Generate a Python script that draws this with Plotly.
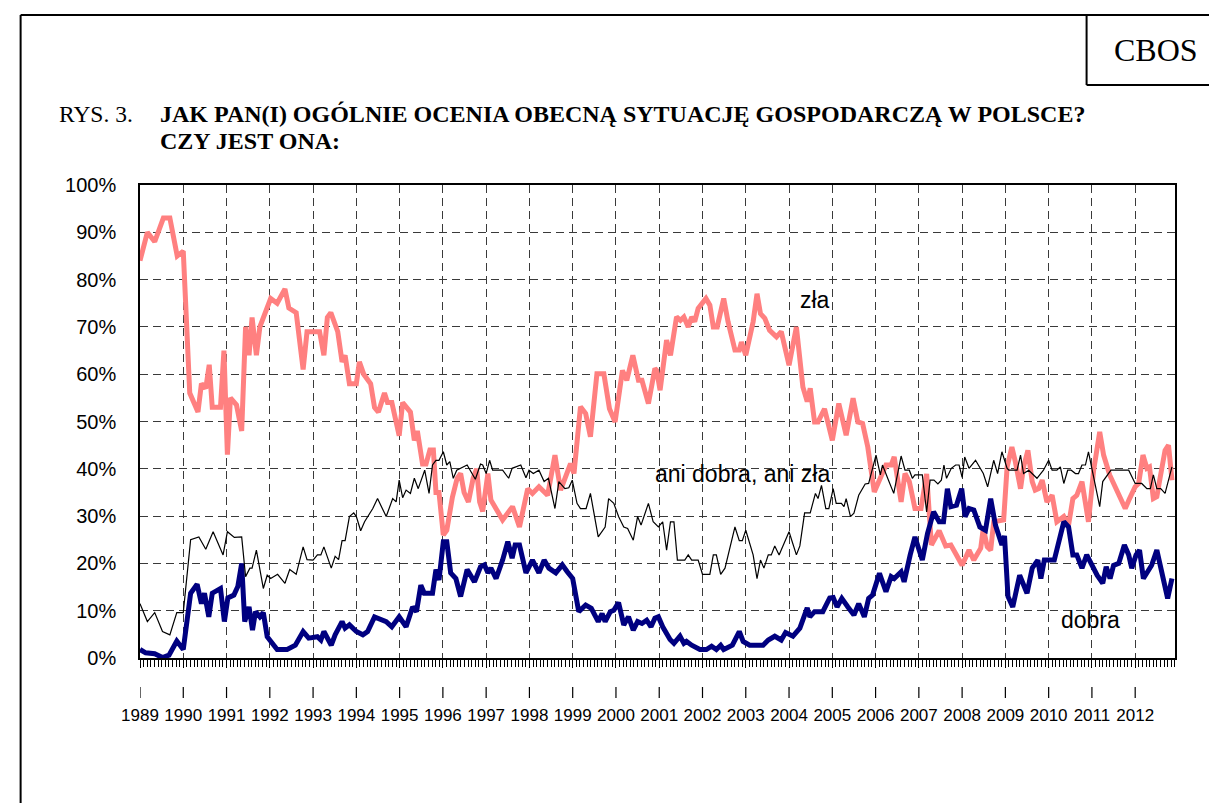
import plotly.graph_objects as go

# ---- data ----
zla_x = [1989.00,1989.17,1989.34,1989.54,1989.69,1989.86,1990.00,1990.15,1990.34,1990.42,1990.52,1990.60,1990.67,1990.86,1990.94,
         1991.02,1991.09,1991.23,1991.35,1991.44,1991.52,1991.59,1991.69,1991.77,1992.02,1992.17,1992.35,1992.44,1992.61,1992.77,1992.86,
         1993.15,1993.25,1993.33,1993.41,1993.57,1993.67,1993.74,1993.84,1994.00,1994.07,1994.17,1994.33,1994.42,1994.51,1994.65,1994.72,
         1994.82,1994.99,1995.07,1995.25,1995.34,1995.41,1995.53,1995.61,1995.70,1995.78,1995.84,1995.91,1996.01,1996.09,1996.22,1996.33,
         1996.41,1996.49,1996.59,1996.70,1996.78,1996.85,1996.92,1997.04,1997.11,1997.38,1997.61,1997.77,1997.96,1998.07,1998.22,1998.42,
         1998.59,1998.72,1998.85,1998.95,1999.03,1999.18,1999.30,1999.41,1999.56,1999.72,1999.85,1999.98,2000.15,2000.25,2000.39,2000.52,
         2000.60,2000.75,2000.90,2000.94,2001.02,2001.17,2001.26,2001.40,2001.49,2001.57,2001.67,2001.75,2001.82,2001.90,2002.08,2002.17,
         2002.25,2002.34,2002.49,2002.59,2002.75,2002.85,2002.90,2003.00,2003.17,2003.26,2003.34,2003.44,2003.55,2003.71,2003.82,2004.00,
         2004.17,2004.32,2004.42,2004.49,2004.59,2004.67,2004.82,2005.00,2005.15,2005.32,2005.48,2005.59,2005.70,2005.82,2005.97,2006.09,
         2006.24,2006.36,2006.43,2006.59,2006.68,2006.78,2006.91,2007.05,2007.18,2007.29,2007.47,2007.62,2007.74,2007.85,2008.00,2008.16,
         2008.27,2008.43,2008.49,2008.58,2008.66,2008.73,2008.96,2009.04,2009.15,2009.23,2009.35,2009.42,2009.52,2009.62,2009.69,2009.77,
         2009.85,2009.96,2010.08,2010.19,2010.35,2010.46,2010.56,2010.65,2010.77,2010.92,2011.04,2011.18,2011.27,2011.41,2011.54,2011.64,
         2011.77,2011.87,2012.00,2012.08,2012.18,2012.27,2012.33,2012.42,2012.50,2012.58,2012.69,2012.77,2012.85]
zla_y = [84,90,88,93,93,85,86,56,52,58,57,62,53,53,65,
         43,55,53.5,48,70,64,72,64,70,76,75,78,74,73,61,69,
         69,64,72,73,69,62.6,64,58,58,62.6,60,58,53,52,56,54,
         54,47,54,52,46,48,41,41,44,44,35,35,26,27,34,38,
         39,35,33,38,40,33,31,39,33.4,29.2,32,27.7,35.8,34.8,36.2,34.4,
         42.9,35.5,39,41.1,39,53.1,51.7,46.8,60.1,60.1,52.7,49.9,60.8,58.7,64,58.7,
         58.7,53.8,61.2,60.8,56.6,67.2,64,72.1,71.4,72.1,70,72.1,71.1,73.9,76,74.6,
         70,70,76,71.1,65.1,65.1,66.8,64,71.1,77,72.8,71.8,69.3,67.9,69,61.9,
         70,57.3,54.2,57,49.9,49.9,52.7,46,53.8,47.1,54.9,49.9,49.6,44.6,35.1,37.6,
         40.8,40.8,42.5,33,39,37.3,31.6,31.6,38.9,23.9,26.9,23.7,23.9,22.1,19.6,22.8,
         20.7,23.2,27.4,23.5,22.8,28.8,29.2,40.4,44.6,41.5,35.8,40.4,43.9,37.3,35.5,35.8,
         37.6,33,34.4,28.8,29.9,28.1,33.7,34.4,37.3,28.8,39.7,47.8,42.9,38.7,36.2,34.4,
         31.6,33.7,36.2,36.9,42.9,40.1,40.4,33.7,34.1,38.3,43.9,45,37.6]

ani_x = [1989.00,1989.17,1989.34,1989.52,1989.69,1989.85,1990.00,1990.17,1990.36,1990.52,1990.69,1990.92,1991.02,1991.18,1991.35,
         1991.44,1991.54,1991.59,1991.69,1991.85,1991.94,1992.02,1992.18,1992.35,1992.46,1992.61,1992.77,1992.86,1993.00,1993.10,1993.18,
         1993.25,1993.42,1993.51,1993.59,1993.67,1993.74,1993.84,1993.94,1994.00,1994.10,1994.19,1994.38,1994.49,1994.69,1994.84,1994.92,
         1994.99,1995.07,1995.15,1995.25,1995.34,1995.43,1995.58,1995.68,1995.76,1995.84,1995.91,1996.01,1996.09,1996.16,1996.24,1996.32,
         1996.41,1996.56,1996.75,1996.87,1996.92,1997.00,1997.08,1997.15,1997.38,1997.52,1997.60,1997.80,1997.92,1997.99,1998.09,1998.22,
         1998.34,1998.44,1998.59,1998.68,1998.82,1998.91,1998.99,1999.10,1999.18,1999.31,1999.41,1999.59,1999.75,1999.83,1999.95,2000.06,
         2000.18,2000.27,2000.40,2000.50,2000.58,2000.75,2000.86,2000.98,2001.08,2001.17,2001.26,2001.34,2001.42,2001.59,2001.67,2001.75,
         2001.90,2002.00,2002.17,2002.25,2002.32,2002.42,2002.52,2002.75,2002.85,2002.92,2003.00,2003.17,2003.26,2003.34,2003.42,2003.52,
         2003.59,2003.67,2003.77,2004.00,2004.17,2004.25,2004.36,2004.49,2004.61,2004.67,2004.75,2004.85,2004.92,2005.02,2005.09,2005.21,
         2005.27,2005.32,2005.42,2005.50,2005.61,2005.70,2005.76,2005.84,2006.01,2006.11,2006.16,2006.28,2006.42,2006.59,2006.68,2006.78,
         2006.85,2006.91,2007.08,2007.18,2007.26,2007.35,2007.44,2007.52,2007.58,2007.64,2007.75,2007.85,2007.93,2008.00,2008.06,2008.16,
         2008.31,2008.49,2008.59,2008.73,2008.82,2008.92,2009.04,2009.08,2009.27,2009.35,2009.42,2009.54,2009.73,2009.88,2010.00,2010.08,
         2010.19,2010.27,2010.35,2010.44,2010.52,2010.62,2010.69,2010.77,2010.85,2010.92,2011.02,2011.10,2011.18,2011.25,2011.33,2011.44,
         2011.85,2012.00,2012.15,2012.27,2012.35,2012.42,2012.50,2012.59,2012.69,2012.85]
ani_y = [11.5,7.7,9.6,5.6,4.9,9.6,9.6,25,25.6,23,26.7,21.8,26.7,25.5,25.6,
         17.2,19,19,22.8,14.7,17.5,16.8,17.7,15.8,18.7,17.7,23.5,20.8,20.7,21.8,21.8,
         23.5,19,21.5,20.8,24.8,24.8,29.9,30.7,29.9,26.9,28.8,31.6,33.7,29.9,33.7,33,
         37.6,33.9,35.5,34.8,38,35.8,39.7,34.8,40.8,41.8,41.8,43.6,40.8,41.5,38,39.7,
         40.1,40.8,37.8,41,40.8,39,41.8,39.7,39.7,38,40.1,40.8,38.1,39.7,39,39.7,
         37.3,38,31.6,37.3,35.8,36,37.6,32.7,31.6,31.6,34.8,25.6,27.7,33.7,32.7,29.9,
         27.7,27.4,24.9,29.9,28.1,32.7,28.8,27.7,28.8,22.8,28.8,28.8,20.7,20.7,21.8,20.7,
         20.7,17.7,17.7,21.8,21.8,17.7,19,27.7,24.8,24.8,27,21.8,16.8,20.7,19,21.8,
         21.8,23.7,21.8,26.7,21.8,23.7,30.7,30.7,34.8,33.7,36.5,31.6,31.6,35.8,32.7,32.7,
         32,33.7,29.9,30.6,34.4,35.8,36.8,36.9,42.9,38.7,40.8,38,34.8,42.7,39.7,39.7,
         38,38.7,38.7,30.9,37.6,37.6,36.8,37.6,40.8,38,40.1,40.8,40.8,38.2,42.5,40.1,
         41.8,39,36.2,41.8,39,43.6,40.1,39.7,39.7,42.9,39,39.7,38,39.7,41.8,39.7,
         39.7,40.4,36.9,39.7,39.7,39,39,40.8,40.8,43.6,39,35.8,32,37.3,38.3,39.7,
         39.7,36.9,36.9,35.8,35.8,38.7,35.8,35.8,34.8,40.4]

dobra_x = [1989.00,1989.13,1989.34,1989.52,1989.67,1989.85,1990.00,1990.17,1990.32,1990.42,1990.49,1990.59,1990.67,1990.86,1990.95,
           1991.03,1991.17,1991.26,1991.35,1991.42,1991.52,1991.60,1991.67,1991.77,1991.85,1991.94,1992.17,1992.40,1992.59,1992.77,1992.90,
           1993.10,1993.18,1993.25,1993.42,1993.51,1993.67,1993.74,1993.84,1994.00,1994.15,1994.26,1994.42,1994.69,1994.82,1994.99,1995.15,
           1995.30,1995.39,1995.49,1995.57,1995.76,1995.84,1995.91,1996.01,1996.09,1996.18,1996.30,1996.41,1996.56,1996.73,1996.87,1996.96,
           1997.04,1997.11,1997.23,1997.38,1997.50,1997.60,1997.67,1997.77,1997.92,1998.07,1998.22,1998.34,1998.45,1998.61,1998.76,1998.87,
           1999.00,1999.14,1999.30,1999.43,1999.59,1999.68,1999.75,1999.87,1999.95,2000.06,2000.18,2000.29,2000.40,2000.50,2000.60,2000.71,
           2000.81,2000.90,2000.98,2001.08,2001.25,2001.34,2001.48,2001.57,2001.63,2001.75,2001.94,2002.09,2002.21,2002.32,2002.42,2002.49,
           2002.69,2002.85,2002.94,2003.09,2003.40,2003.52,2003.67,2003.82,2003.92,2004.09,2004.25,2004.42,2004.48,2004.59,2004.78,2004.94,
           2005.02,2005.11,2005.22,2005.36,2005.50,2005.61,2005.74,2005.84,2005.93,2006.09,2006.24,2006.36,2006.43,2006.59,2006.66,2006.80,
           2006.91,2007.08,2007.20,2007.34,2007.47,2007.57,2007.66,2007.74,2007.87,2007.99,2008.07,2008.16,2008.27,2008.41,2008.54,2008.66,
           2008.77,2008.92,2008.98,2009.06,2009.17,2009.33,2009.50,2009.62,2009.75,2009.82,2009.90,2010.13,2010.25,2010.35,2010.46,2010.56,
           2010.65,2010.77,2010.88,2011.12,2011.25,2011.33,2011.42,2011.50,2011.62,2011.75,2011.85,2011.92,2012.02,2012.10,2012.19,2012.38,
           2012.50,2012.62,2012.75,2012.85]
dobra_y = [1.8,1.1,0.9,0.1,0.6,3.6,1.8,13.7,15.6,11.5,13.7,8.7,13.7,14.7,7.7,
           12.7,13.3,15.1,20,7.7,10.8,5.9,9.8,8.7,9.6,4.5,1.8,1.8,2.7,5.6,4.2,
           4.5,3.8,5.6,2.7,4.9,7.7,6.3,7,5.6,4.9,5.6,8.7,7.7,6.6,8.7,6.6,
           10.8,9.8,15.4,13.7,13.7,18.7,16.5,24.6,24.6,18,16.8,13,18.7,16.1,19.3,19.7,
           18,19,16.8,20.7,24.6,21.1,23.9,23.9,18,20.7,18,20.7,19,18,19.7,18.3,
           16.8,9.8,11.2,10.5,7.7,9.4,7.7,9.8,10.1,11.7,7,8.7,5.9,7.7,7.3,8,
           6.6,8.4,8.7,6.6,3.9,3.1,4.6,3.1,3.5,2.7,1.8,1.8,2.5,1.8,2.7,1.8,
           2.7,5.6,3.5,2.7,2.7,3.8,4.6,3.8,5.4,4.6,6.3,10.6,8.7,9.8,9.8,12.7,
           12.8,10.8,12.6,10.8,9.1,11.5,8.7,12.6,13.3,17.9,14,17.2,16.8,18.2,16.1,21.8,
           25.6,20.7,26.3,30.9,28.8,28.8,35.8,32,32.3,35.8,29.9,31.6,31.3,27.7,27,33.7,
           28.1,23.9,25.8,13,10.8,17.5,13.7,19,20.7,16.8,20.7,20.7,25.3,28.8,27.7,21.8,
           21.8,19,21.8,17.5,15.8,19.3,16.8,19.6,20,23.9,21.8,19,21.8,22.8,16.8,19.6,
           22.8,17.5,12.6,16.8]

years = list(range(1989, 2013))
y_ticks = list(range(0, 101, 10))

series_labels = [("zła", 2004.61, 75.7), ("ani dobra, ani zła", 2002.93, 38.9), ("dobra", 2010.96, 8.0)]

# ---- geometry (page pixels; the page body has an 8px margin) ----
OFF = 8
W, H = 1217 - OFF, 803 - OFF
L, R, T, B = 139.5, 1175.5, 185, 658      # plot area in page pixels
PW, PH = R - L, B - T
def px(x):
    return (x - L) / PW
def py(y):
    return (B - y) / PH

fig = go.Figure()
fig.add_trace(go.Scatter(x=zla_x, y=zla_y, mode="lines", line=dict(color="#FF8080", width=5), hoverinfo="skip"))
fig.add_trace(go.Scatter(x=dobra_x, y=dobra_y, mode="lines", line=dict(color="#000080", width=5), hoverinfo="skip"))
fig.add_trace(go.Scatter(x=ani_x, y=ani_y, mode="lines", line=dict(color="#000000", width=1.2), hoverinfo="skip"))

grid_dash = "8px,5px"
fig.update_xaxes(range=[1989, 2012.92], tickmode="array", tickvals=years, ticktext=[str(y) for y in years],
                 showgrid=True, gridcolor="#3a3a3a", griddash=grid_dash, gridwidth=1,
                 showline=True, linecolor="black", linewidth=1.5, mirror=True,
                 ticks="outside", ticklen=8, tickcolor="black", tickwidth=1,
                 minor=dict(tickmode="linear", tick0=1989, dtick=1/12, ticks="outside", ticklen=7, tickcolor="black", tickwidth=1, showgrid=False),
                 tickfont=dict(family="Liberation Sans, Arial", size=17, color="black"),
                 ticklabelstandoff=33, zeroline=False, fixedrange=True)
fig.update_yaxes(range=[0, 100], tickmode="array", tickvals=y_ticks, ticktext=[f"{v}%" for v in y_ticks],
                 showgrid=True, gridcolor="#3a3a3a", griddash=grid_dash, gridwidth=1,
                 showline=True, linecolor="black", linewidth=1.5, mirror=True,
                 ticks="", tickfont=dict(family="Liberation Sans, Arial", size=20, color="black"),
                 ticklabelstandoff=18, zeroline=False, fixedrange=True)

shapes = []
# dash marks below axis at each year
for yr in years:
    shapes.append(dict(type="line", xref="x", yref="paper", x0=yr, x1=yr, y0=py(687), y1=py(698),
                       line=dict(color="black", width=1.2)))
# page frame and CBOS box
shapes.append(dict(type="line", xref="paper", yref="paper", x0=px(20), x1=px(20), y0=py(15), y1=py(810), line=dict(color="black", width=2)))
shapes.append(dict(type="line", xref="paper", yref="paper", x0=px(20), x1=px(1225), y0=py(15), y1=py(15), line=dict(color="black", width=2)))
shapes.append(dict(type="line", xref="paper", yref="paper", x0=px(1087), x1=px(1087), y0=py(15), y1=py(85), line=dict(color="black", width=2)))
shapes.append(dict(type="line", xref="paper", yref="paper", x0=px(1087), x1=px(1225), y0=py(85), y1=py(85), line=dict(color="black", width=2)))

annotations = []
for txt, xx, yy in series_labels:
    annotations.append(dict(text=txt, x=xx, y=yy, xref="x", yref="y", showarrow=False, xanchor="center", yanchor="middle",
                            font=dict(family="Liberation Sans, Arial", size=23, color="black")))
annotations.append(dict(text="CBOS", x=px(1156), y=py(50), xref="paper", yref="paper", showarrow=False,
                        xanchor="center", yanchor="middle",
                        font=dict(family="Liberation Serif, Times New Roman", size=32, color="black")))
annotations.append(dict(text="RYS. 3.", x=px(56), y=py(114), xref="paper", yref="paper", xanchor="left", yanchor="middle",
                        showarrow=False, font=dict(family="Liberation Serif, Times New Roman", size=23.5, color="black")))
annotations.append(dict(text="<b>JAK PAN(I) OGÓLNIE OCENIA OBECNĄ SYTUACJĘ GOSPODARCZĄ W POLSCE?</b>", x=px(158), y=py(114),
                        xref="paper", yref="paper", xanchor="left", yanchor="middle", showarrow=False,
                        font=dict(family="Liberation Serif, Times New Roman", size=24, color="black")))
annotations.append(dict(text="<b>CZY JEST ONA:</b>", x=px(158), y=py(141),
                        xref="paper", yref="paper", xanchor="left", yanchor="middle", showarrow=False,
                        font=dict(family="Liberation Serif, Times New Roman", size=24, color="black")))

fig.update_layout(width=W, height=H,
                  margin=dict(l=L - OFF, r=W - (R - OFF), t=T - OFF, b=H - (B - OFF), pad=0, autoexpand=False),
                  paper_bgcolor="white", plot_bgcolor="white", showlegend=False,
                  shapes=shapes, annotations=annotations)

fig.write_html("out.html", config={"displayModeBar": False})
